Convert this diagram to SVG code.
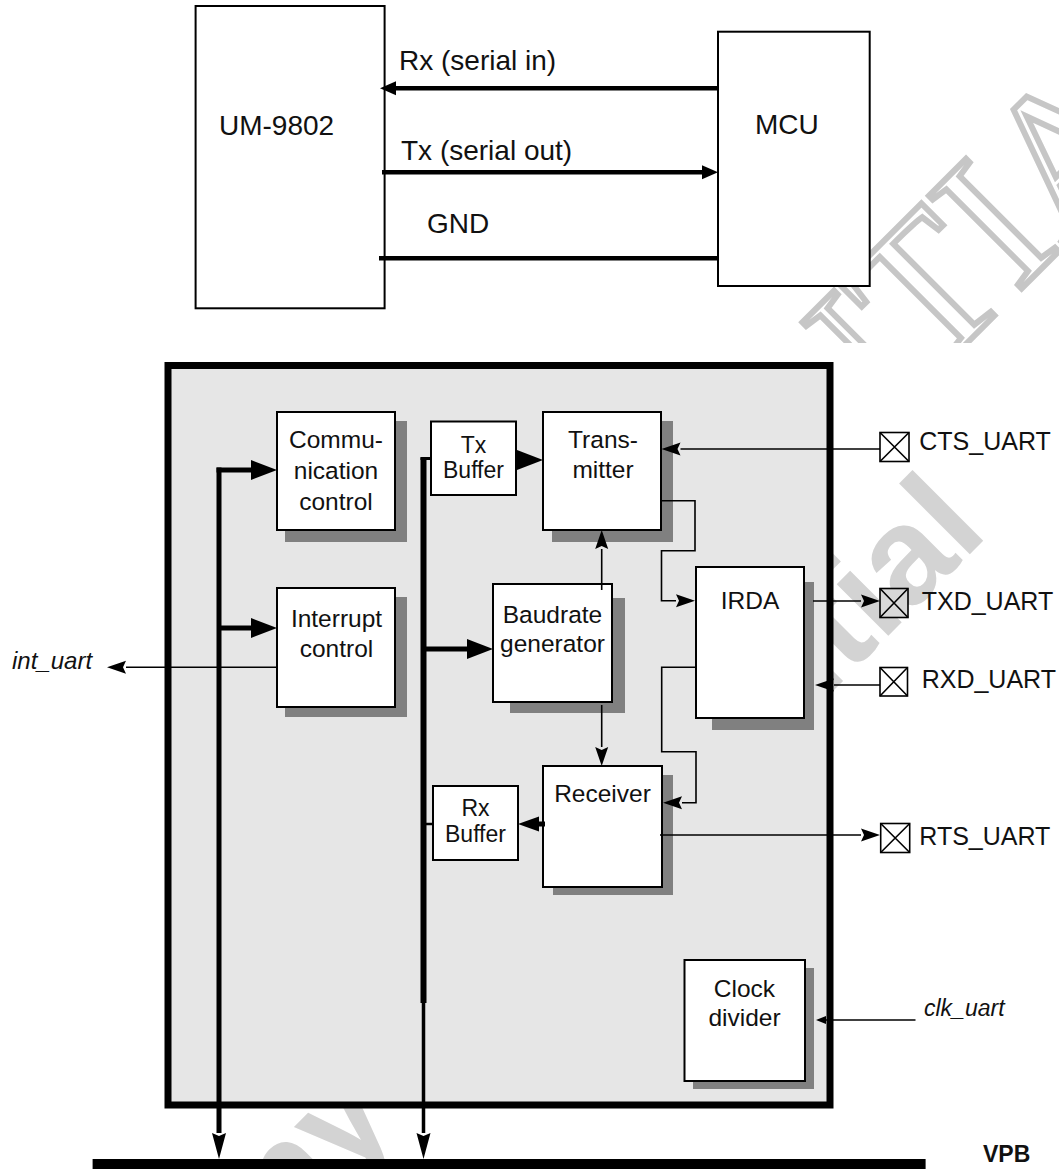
<svg xmlns="http://www.w3.org/2000/svg" width="1059" height="1169" viewBox="0 0 1059 1169">
<style>
.t{font-family:"Liberation Sans",Arial,sans-serif;fill:#111}
.top{font-size:28px}
.blk{font-size:24.5px;text-anchor:middle}
.buf{font-size:23px;text-anchor:middle}
.lbl{font-size:25px}
.box{fill:#fff;stroke:#000;stroke-width:2}
.sh{fill:#808080}
.ln{fill:none;stroke:#000;stroke-width:1.6}
.thk{fill:none;stroke:#000;stroke-width:5}
.pad{fill:#fff;stroke:#000;stroke-width:1.6}
.wm{font-family:"Liberation Sans",Arial,sans-serif;font-weight:bold;fill:#d3d3d3}
.wmo{font-family:"Liberation Serif","Times New Roman",serif;fill:none;stroke:#c6c6c6;stroke-width:6}
</style>
<defs>
<marker id="ab" markerUnits="userSpaceOnUse" orient="auto" refX="0" refY="0" overflow="visible"><path d="M0,-10 L26,0 L0,10 Z" fill="#000"/></marker>
<marker id="ar" markerUnits="userSpaceOnUse" orient="auto" refX="0" refY="0" overflow="visible"><path d="M0,-7.5 L21,0 L0,7.5 Z" fill="#000"/></marker>
<marker id="am" markerUnits="userSpaceOnUse" orient="auto" refX="0" refY="0" overflow="visible"><path d="M0,-6.5 L19,0 L0,6.5 L3,0 Z" fill="#000"/></marker>
<marker id="av" markerUnits="userSpaceOnUse" orient="auto" refX="0" refY="0" overflow="visible"><path d="M0,-7 L26,0 L0,7 L3,0 Z" fill="#000"/></marker>
<marker id="at" markerUnits="userSpaceOnUse" orient="auto" refX="0" refY="0" overflow="visible"><path d="M0,-7 L16,0 L0,7 Z" fill="#000"/></marker>
<marker id="as" markerUnits="userSpaceOnUse" orient="auto" refX="0" refY="0" overflow="visible"><path d="M0,-4 L10,0 L0,4 Z" fill="#000"/></marker>
<clipPath id="cTop"><rect x="0" y="0" width="1059" height="343"/></clipPath>
</defs>

<!-- watermark (outlined) -->
<g id="watermark-outline" clip-path="url(#cTop)">
<text class="wmo" font-size="200" x="930" y="380" transform="rotate(-45 930 380)" text-anchor="end">CONFIDEN</text>
<text class="wmo" font-size="200" x="930" y="380" transform="rotate(-45 930 380)">TIAL</text>
</g>

<!-- top diagram -->
<g id="um9802"><rect class="box" x="195.6" y="6" width="189" height="302.3"/><text class="t top" x="219" y="135">UM-9802</text></g>
<g id="mcu"><rect class="box" x="718" y="31.7" width="151.7" height="254.3"/><text class="t top" x="755" y="134">MCU</text></g>
<g id="top-connectors">
<path d="M718,88.3 H396" fill="none" stroke="#000" stroke-width="4.5" marker-end="url(#at)"/>
<path d="M382,172.3 H702" fill="none" stroke="#000" stroke-width="4.5" marker-end="url(#at)"/>
<path d="M379,258.3 H718" fill="none" stroke="#000" stroke-width="4.5"/>
<text class="t top" x="399" y="70">Rx (serial in)</text>
<text class="t top" x="401" y="160">Tx (serial out)</text>
<text class="t top" x="427" y="232.7">GND</text>
</g>

<!-- watermark (solid) -->
<g id="watermark-solid">
<text class="wm" font-size="138" x="990" y="534" transform="rotate(-45 990 534)" text-anchor="end">Company Confidential</text>
</g>

<!-- UART block -->
<g id="uart">
<rect x="168" y="365.5" width="662" height="739.5" fill="#e6e6e6" stroke="#000" stroke-width="7"/>
</g>

<g id="comm-control"><rect class="sh" x="285" y="421" width="122" height="121"/><rect class="box" x="277" y="412" width="118" height="118"/>
<text class="t blk" x="336" y="448.3">Commu-</text><text class="t blk" x="336" y="479">nication</text><text class="t blk" x="336" y="510">control</text></g>

<g id="interrupt-control"><rect class="sh" x="285" y="597" width="122" height="120"/><rect class="box" x="277" y="588" width="118" height="119"/>
<text class="t blk" x="336.5" y="626.7">Interrupt</text><text class="t blk" x="336.5" y="656.7">control</text></g>

<g id="tx-buffer"><rect class="box" x="431" y="421.5" width="85" height="73.5"/>
<text class="t buf" x="473.5" y="452.5">Tx</text><text class="t buf" x="473.5" y="478">Buffer</text></g>

<g id="transmitter"><rect class="sh" x="552" y="421" width="121" height="121"/><rect class="box" x="543" y="412" width="118" height="118"/>
<text class="t blk" x="603" y="448.3">Trans-</text><text class="t blk" x="603" y="478.3">mitter</text></g>

<g id="baudrate-generator"><rect class="sh" x="510" y="598" width="115" height="115"/><rect class="box" x="493" y="584" width="119" height="118"/>
<text class="t blk" x="552.5" y="623.3">Baudrate</text><text class="t blk" x="552.5" y="651.7">generator</text></g>

<g id="irda"><rect class="sh" x="712" y="582" width="102" height="148"/><rect class="box" x="696" y="567" width="108" height="151"/>
<text class="t blk" x="750" y="609.3">IRDA</text></g>

<g id="receiver"><rect class="sh" x="553" y="775" width="120" height="120"/><rect class="box" x="543" y="766" width="119" height="121"/>
<text class="t blk" x="602.5" y="801.7">Receiver</text></g>

<g id="rx-buffer"><rect class="box" x="433" y="786" width="85" height="74"/>
<text class="t buf" x="475.5" y="815.5">Rx</text><text class="t buf" x="475.5" y="842">Buffer</text></g>

<g id="clock-divider"><rect class="sh" x="693" y="968" width="121" height="121"/><rect class="box" x="684.5" y="960" width="120.5" height="121"/>
<text class="t blk" x="744.5" y="996.7">Clock</text><text class="t blk" x="744.5" y="1025.7">divider</text></g>

<!-- pads -->
<g id="pad-cts"><rect class="pad" x="880" y="432.5" width="29" height="29"/><path class="ln" d="M880,432.5 L909,461.5 M909,432.5 L880,461.5"/><text class="t lbl" x="919.3" y="450">CTS_UART</text></g>
<g id="pad-txd"><rect class="pad" x="880" y="588.5" width="28" height="29" style="fill:#d8d8d8"/><path class="ln" d="M880,588.5 L908,617.5 M908,588.5 L880,617.5"/><text class="t lbl" x="921.7" y="610">TXD_UART</text></g>
<g id="pad-rxd"><rect class="pad" x="880" y="667.5" width="27.5" height="28.5"/><path class="ln" d="M880,667.5 L907.5,696 M907.5,667.5 L880,696"/><text class="t lbl" x="921.7" y="688">RXD_UART</text></g>
<g id="pad-rts"><rect class="pad" x="880.7" y="823.5" width="29" height="29"/><path class="ln" d="M880.7,823.5 L909.7,852.5 M909.7,823.5 L880.7,852.5"/><text class="t lbl" x="919.3" y="845">RTS_UART</text></g>

<!-- VPB bus -->
<g id="vpb"><rect x="92.6" y="1159" width="833" height="12" fill="#000"/><text class="t" x="983" y="1162" font-size="23" font-weight="bold">VPB</text></g>

<!-- connectors -->
<g id="connectors">
<path class="thk" d="M219,467.5 V1133" marker-end="url(#av)"/>
<path class="thk" d="M216.5,470 H251" marker-end="url(#ab)"/>
<path class="thk" d="M219,628 H251" marker-end="url(#ab)"/>
<path d="M423.5,457.5 V1003" fill="none" stroke="#000" stroke-width="6"/>
<path d="M423.5,1003 V1133" fill="none" stroke="#000" stroke-width="3.5" marker-end="url(#av)"/>
<path d="M420.5,458.5 H432" fill="none" stroke="#000" stroke-width="3"/>
<path class="thk" d="M423.5,649 H467" marker-end="url(#ab)"/>
<path d="M426,824 H434" fill="none" stroke="#000" stroke-width="2.5"/>
<path d="M515,460 H517" fill="none" stroke="#000" stroke-width="3" marker-end="url(#ab)"/>
<path d="M545,824 H539" fill="none" stroke="#000" stroke-width="5" marker-end="url(#ar)"/>
<path class="ln" d="M880,449 H680.5" marker-end="url(#am)"/>
<path class="ln" d="M661,500.7 H695 V550.7 H661.5 V600.7 H676" marker-end="url(#am)"/>
<path class="ln" d="M601.7,590 V549" marker-end="url(#am)"/>
<path class="ln" d="M601.7,705 V747" marker-end="url(#am)"/>
<path class="ln" d="M695.7,667.3 H661.7 V751.7 H696 V802.7 H682" marker-end="url(#am)"/>
<path class="ln" d="M813,601 H861" marker-end="url(#am)"/>
<path class="ln" d="M880,685 H834" marker-end="url(#am)"/>
<path class="ln" d="M660,835 H861" marker-end="url(#am)"/>
<path class="ln" d="M277,667.3 H126" marker-end="url(#am)"/>
<path class="ln" d="M915.5,1020 H826" marker-end="url(#as)"/>
</g>
<text class="t" x="12" y="669" font-size="24" font-style="italic">int_uart</text>
<text class="t" x="924" y="1016" font-size="23" font-style="italic">clk_uart</text>
</svg>
